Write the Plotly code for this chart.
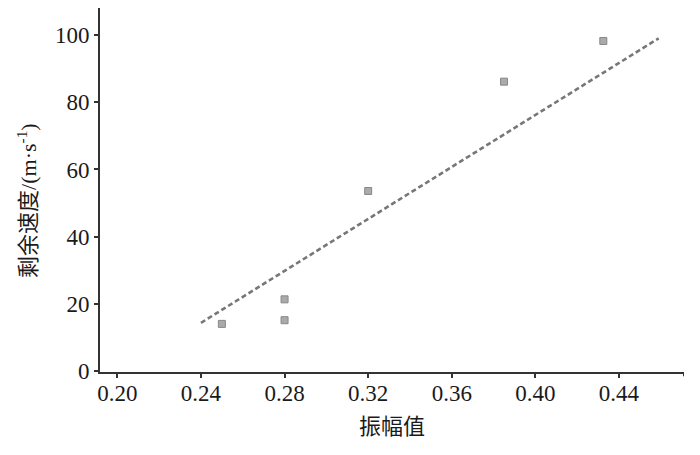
import plotly.graph_objects as go

amplitude = [0.25, 0.28, 0.28, 0.32, 0.385, 0.4325]
residual_speed = [14.1, 21.4, 15.2, 53.6, 86.1, 98.2]

fit_x = [0.24, 0.459]
fit_y = [14.4, 99.0]

x_ticks = [0.20, 0.24, 0.28, 0.32, 0.36, 0.40, 0.44]
x_tick_labels = ["0.20", "0.24", "0.28", "0.32", "0.36", "0.40", "0.44"]
y_ticks = [0, 20, 40, 60, 80, 100]

font_family = "Liberation Serif, Noto Sans CJK SC, serif"

fig = go.Figure()
fig.add_trace(go.Scatter(
    x=fit_x, y=fit_y, mode="lines",
    line=dict(color="#777777", width=2.6, dash="5px,3px"),
    showlegend=False, hoverinfo="skip",
))
fig.add_trace(go.Scatter(
    x=amplitude, y=residual_speed, mode="markers",
    marker=dict(symbol="square", size=7, color="#aaaaaa",
                line=dict(color="#888888", width=1)),
    showlegend=False,
))

fig.update_layout(
    width=692, height=447,
    margin=dict(l=92, r=16, t=0, b=83),
    paper_bgcolor="white", plot_bgcolor="white",
    font=dict(family=font_family, color="#1a1a1a", size=23),
    xaxis=dict(
        range=[0.1917, 0.4711],
        tickvals=x_ticks, ticktext=x_tick_labels,
        showgrid=False, zeroline=False,
        showline=True, linecolor="#333333", linewidth=2,
        ticks="outside", ticklen=4, tickwidth=1.5, tickcolor="#333333",
        tickfont=dict(size=23), ticklabelstandoff=-5,
        title=dict(text="振幅值", font=dict(size=22, family="Noto Sans CJK SC"), standoff=14),
    ),
    yaxis=dict(
        range=[-0.2, 108],
        tickvals=y_ticks,
        showgrid=False, zeroline=False,
        showline=True, linecolor="#333333", linewidth=2,
        ticks="outside", ticklen=4, tickwidth=1.5, tickcolor="#333333",
        tickfont=dict(size=23),
    ),
)

fig.add_annotation(
    text="剩余速度/(m·s<sup>-1</sup>)", textangle=-90,
    xref="paper", yref="paper", x=-0.125, y=0.47,
    xanchor="center", yanchor="middle", showarrow=False,
    font=dict(size=22, family=font_family, color="#1a1a1a"),
)

fig.add_shape(type="line", xref="x", yref="paper",
              x0=0.4711, x1=0.4711, y0=0, y1=-0.012,
              line=dict(color="#333333", width=2))

fig.write_html("out.html")
